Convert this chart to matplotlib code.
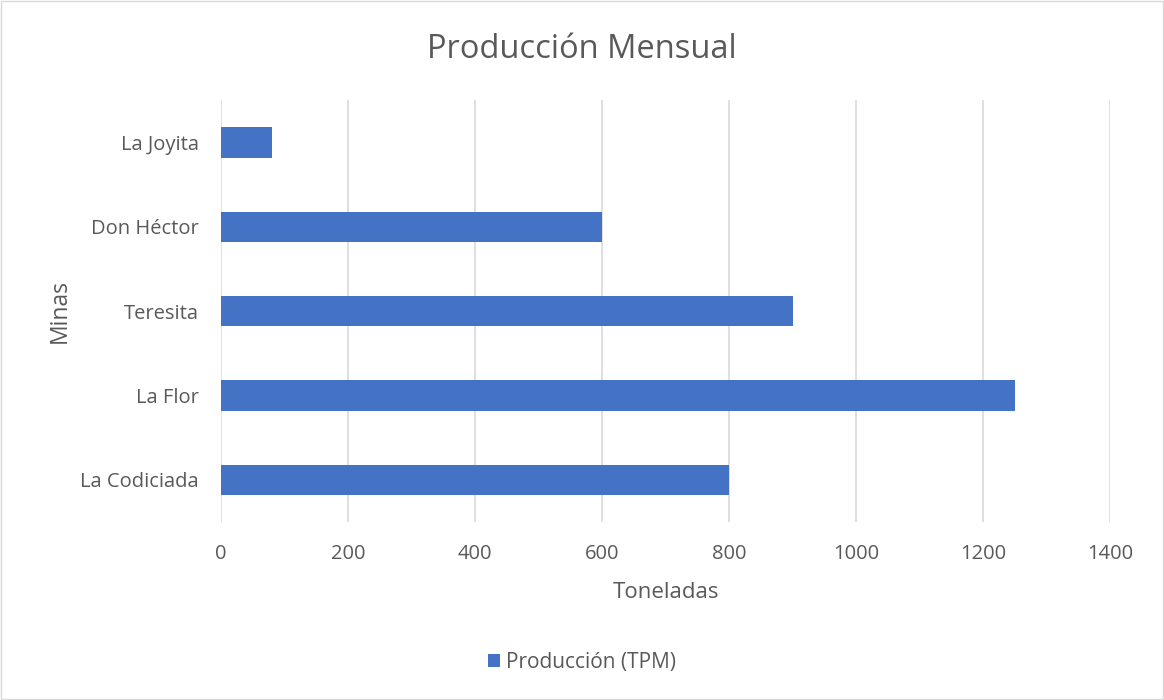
import matplotlib.pyplot as plt
from matplotlib.patches import Rectangle

plt.rcParams['font.family'] = ['Open Sans', 'DejaVu Sans']

# datos
minas = ['La Codiciada', 'La Flor', 'Teresita', 'Don Héctor', 'La Joyita']
produccion = [800, 1250, 900, 600, 80]
ticks_x = [0, 200, 400, 600, 800, 1000, 1200, 1400]

gris = '#595959'
azul = '#4472C4'

fig = plt.figure(figsize=(11.64, 7.0), dpi=100)
ax = fig.add_axes([0.190, 0.254, 0.7636, 0.603])

ax.barh(minas, produccion, height=0.36, color=azul, label='Producción (TPM)', zorder=3)

ax.set_xlim(0, 1400)
ax.set_ylim(-0.5, len(minas) - 0.5)
ax.set_xticks(ticks_x)
ax.grid(axis='x', color='#D9D9D9', linewidth=1.2, zorder=0)
for s in ax.spines.values():
    s.set_visible(False)
ax.tick_params(length=0, labelsize=14.5, colors=gris)
ax.tick_params(axis='y', pad=16)
ax.tick_params(axis='x', pad=16)

ax.set_xlabel('Toneladas', fontsize=16, color=gris, labelpad=13)
ax.set_ylabel('Minas', fontsize=16.5, color=gris, labelpad=6)

fig.text(0.5, 0.929, 'Producción Mensual', ha='center', va='center', fontsize=23.5, color=gris)

fig.legend(loc='center', bbox_to_anchor=(0.5, 0.054), frameon=False, fontsize=15,
           labelcolor=gris, handlelength=0.6, handleheight=0.6, handletextpad=0.3)

fig.patches.append(Rectangle((0.001, 0.001), 0.998, 0.997, transform=fig.transFigure,
                             fill=False, edgecolor='#D9D9D9', linewidth=1))

fig.savefig('out.png', dpi=100)
